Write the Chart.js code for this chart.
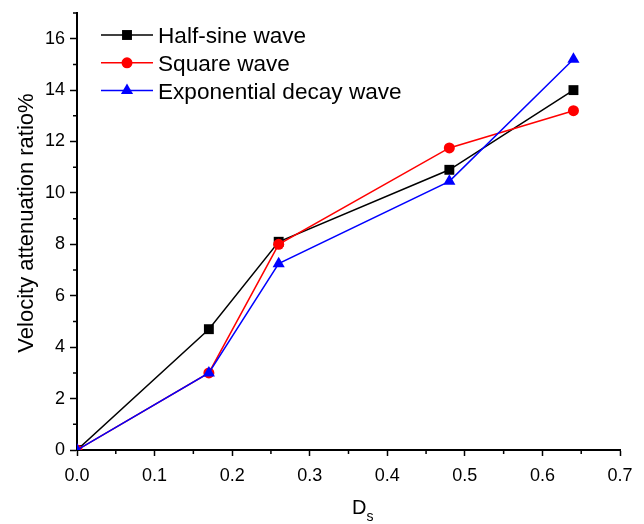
<!DOCTYPE html>
<html>
<head>
<meta charset="utf-8">
<script src="https://cdn.jsdelivr.net/npm/chart.js@4/dist/chart.umd.min.js"></script>
<style>
  html, body { margin: 0; padding: 0; background: #fff; }
</style>
</head>
<body>
<canvas id="attenuationChart" width="644" height="524"></canvas>
<script>
// Velocity attenuation ratio vs. D_s for three pulse shapes

const dsValues = [0, 0.17, 0.26, 0.48, 0.64];
const halfSine = [0, 4.7, 8.1, 10.9, 14.0];
const square = [0, 3.0, 8.0, 11.75, 13.2];
const expDecay = [0, 3.0, 7.25, 10.45, 15.2];
const seriesNames = ['Half-sine wave', 'Square wave', 'Exponential decay wave'];

const xTicks = [0, 0.1, 0.2, 0.3, 0.4, 0.5, 0.6, 0.7];
const xMinorTicks = [0.05, 0.15, 0.25, 0.35, 0.45, 0.55, 0.65];
const yTicks = [0, 2, 4, 6, 8, 10, 12, 14, 16];
const yMinorTicks = [1, 3, 5, 7, 9, 11, 13, 15, 17];

const FONT = 'Liberation Sans, Arial, sans-serif';
const toPoints = ys => ys.map((y, i) => ({ x: dsValues[i], y }));

const series = [
  { values: halfSine, color: '#000000', pointStyle: 'rect', radius: 7, order: 3 },
  { values: square, color: '#ff0000', pointStyle: 'circle', radius: 5.5, order: 2 },
  { values: expDecay, color: '#0000ff', pointStyle: 'triangle', radius: 7, order: 1 },
];

// minor ticks, axis titles and an Origin-style legend (line through marker)
const decorations = {
  id: 'decorations',
  afterDraw(chart) {
    const { ctx, chartArea, scales: { x, y } } = chart;
    ctx.save();

    ctx.strokeStyle = '#000';
    ctx.lineWidth = 1.5;
    ctx.beginPath();
    xMinorTicks.forEach(v => {
      const px = x.getPixelForValue(v);
      ctx.moveTo(px, chartArea.bottom);
      ctx.lineTo(px, chartArea.bottom + 4);
    });
    yMinorTicks.forEach(v => {
      const py = y.getPixelForValue(v);
      ctx.moveTo(chartArea.left, py);
      ctx.lineTo(chartArea.left - 4, py);
    });
    ctx.stroke();

    ctx.fillStyle = '#000';
    ctx.textAlign = 'left';
    ctx.textBaseline = 'alphabetic';
    ctx.font = '20px ' + FONT;
    ctx.fillText('D', 352, 514);
    ctx.font = '14px ' + FONT;
    ctx.fillText('s', 366.5, 521);

    ctx.save();
    ctx.translate(33, 223);
    ctx.rotate(-Math.PI / 2);
    ctx.textAlign = 'center';
    ctx.font = '22px ' + FONT;
    ctx.fillText('Velocity attenuation ratio%', 0, 0);
    ctx.restore();

    ctx.font = '22.6px ' + FONT;
    series.forEach((s, i) => {
      const rowY = 35 + i * 27.8;
      ctx.strokeStyle = s.color;
      ctx.fillStyle = s.color;
      ctx.lineWidth = 1.5;
      ctx.beginPath();
      ctx.moveTo(101, rowY);
      ctx.lineTo(153, rowY);
      ctx.stroke();
      Chart.helpers.drawPoint(ctx, { pointStyle: s.pointStyle, radius: s.radius, rotation: 0, borderWidth: 0 }, 127, rowY);
      ctx.fillStyle = '#000';
      ctx.fillText(seriesNames[i], 158, rowY + 8);
    });

    ctx.restore();
  }
};

new Chart(document.getElementById('attenuationChart'), {
  type: 'line',
  data: {
    datasets: series.map((s, i) => ({
      label: seriesNames[i],
      data: toPoints(s.values),
      borderColor: s.color,
      backgroundColor: s.color,
      borderWidth: 1.5,
      pointStyle: s.pointStyle,
      pointRadius: s.radius,
      pointBorderWidth: 0,
      tension: 0,
      order: s.order,
    }))
  },
  options: {
    responsive: false,
    animation: false,
    devicePixelRatio: 1,
    layout: { padding: { top: 13, right: 24, bottom: 0, left: 0 } },
    plugins: { legend: { display: false }, tooltip: { enabled: false } },
    scales: {
      x: {
        type: 'linear', min: 0, max: 0.7, bounds: 'data',
        afterBuildTicks: s => { s.ticks = xTicks.map(v => ({ value: v })); },
        afterFit: s => { s.height = 74; },
        ticks: {
          callback: v => v.toFixed(1), color: '#000', padding: 9,
          maxRotation: 0, autoSkip: false, font: { family: FONT, size: 18 }
        },
        grid: { drawOnChartArea: false, tickLength: 6, tickWidth: 1.5, tickColor: '#000' },
        border: { color: '#000', width: 2 }
      },
      y: {
        min: 0, max: 17, bounds: 'data',
        afterBuildTicks: s => { s.ticks = yTicks.map(v => ({ value: v })); },
        // top label sits well below the axis end, so no extra room is needed above it
        afterFit: s => { s.width = 77; s.paddingTop = 0; s.paddingBottom = 0; },
        ticks: {
          color: '#000', padding: 5, autoSkip: false,
          font: { family: FONT, size: 18 }
        },
        grid: { drawOnChartArea: false, tickLength: 7, tickWidth: 1.5, tickColor: '#000' },
        border: { color: '#000', width: 2 }
      }
    }
  },
  plugins: [decorations]
});
</script>
</body>
</html>
